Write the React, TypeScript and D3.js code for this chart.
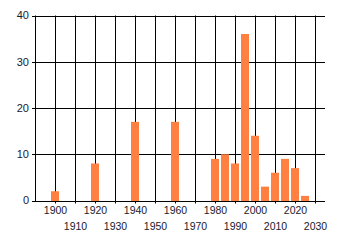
import React from "react";
import * as d3 from "d3";

const years = [1900, 1920, 1940, 1960, 1980, 1985, 1990, 1995, 2000, 2005, 2010, 2015, 2020, 2025];
const counts = [2, 8, 17, 17, 9, 10, 8, 36, 14, 3, 6, 9, 7, 1];
const xTicks = [1900, 1910, 1920, 1930, 1940, 1950, 1960, 1970, 1980, 1990, 2000, 2010, 2020, 2030];
const yTicks = [0, 10, 20, 30, 40];

export default function App() {
  const W = 340, H = 245;
  const x = d3.scaleLinear().domain([1890, 2035]).range([35, 325]);
  const y = d3.scaleLinear().domain([0, 40]).range([200.5, 15.5]);
  const font = "'Liberation Sans', Arial, sans-serif";
  const barHalf = 2;
  return (
    <svg width={W} height={H} style={{ position: "absolute", left: 0, top: 0, background: "#fff" }}>
      {/* horizontal gridlines */}
      {yTicks.map((t) => (
        <line key={"h" + t} x1={32} x2={325} y1={Math.round(y(t)) + 0.5} y2={Math.round(y(t)) + 0.5} stroke="#000" strokeWidth={1} />
      ))}
      {/* vertical gridlines */}
      {xTicks.map((t) => (
        <line key={"v" + t} x1={Math.round(x(t)) + 0.5} x2={Math.round(x(t)) + 0.5} y1={y(40)} y2={y(0) + 3} stroke="#000" strokeWidth={1} />
      ))}
      {/* bars */}
      {years.map((yr, i) => (
        <rect
          key={yr}
          x={x(yr - barHalf)}
          width={x(yr + barHalf) - x(yr - barHalf)}
          y={y(counts[i])}
          height={Math.round(y(0)) - y(counts[i])}
          fill="#FF8040"
        />
      ))}
      {/* y axis line */}
      <line x1={35.5} x2={35.5} y1={y(40)} y2={y(0) + 0.5} stroke="#000" strokeWidth={1} />
      {/* y labels */}
      {yTicks.map((t) => (
        <text key={"yl" + t} x={29} y={y(t)} dy="0.35em" textAnchor="end" fontFamily={font} fontSize={11} fill="#1a1a2e">
          {t}
        </text>
      ))}
      {/* x labels */}
      {xTicks.map((t, i) => (
        <text
          key={"xl" + t}
          x={x(t) + 0.5}
          y={i % 2 === 0 ? 214 : 230}
          textAnchor="middle"
          fontFamily={font}
          fontSize={10.5}
          fill="#1a1a2e"
        >
          {t}
        </text>
      ))}
    </svg>
  );
}
